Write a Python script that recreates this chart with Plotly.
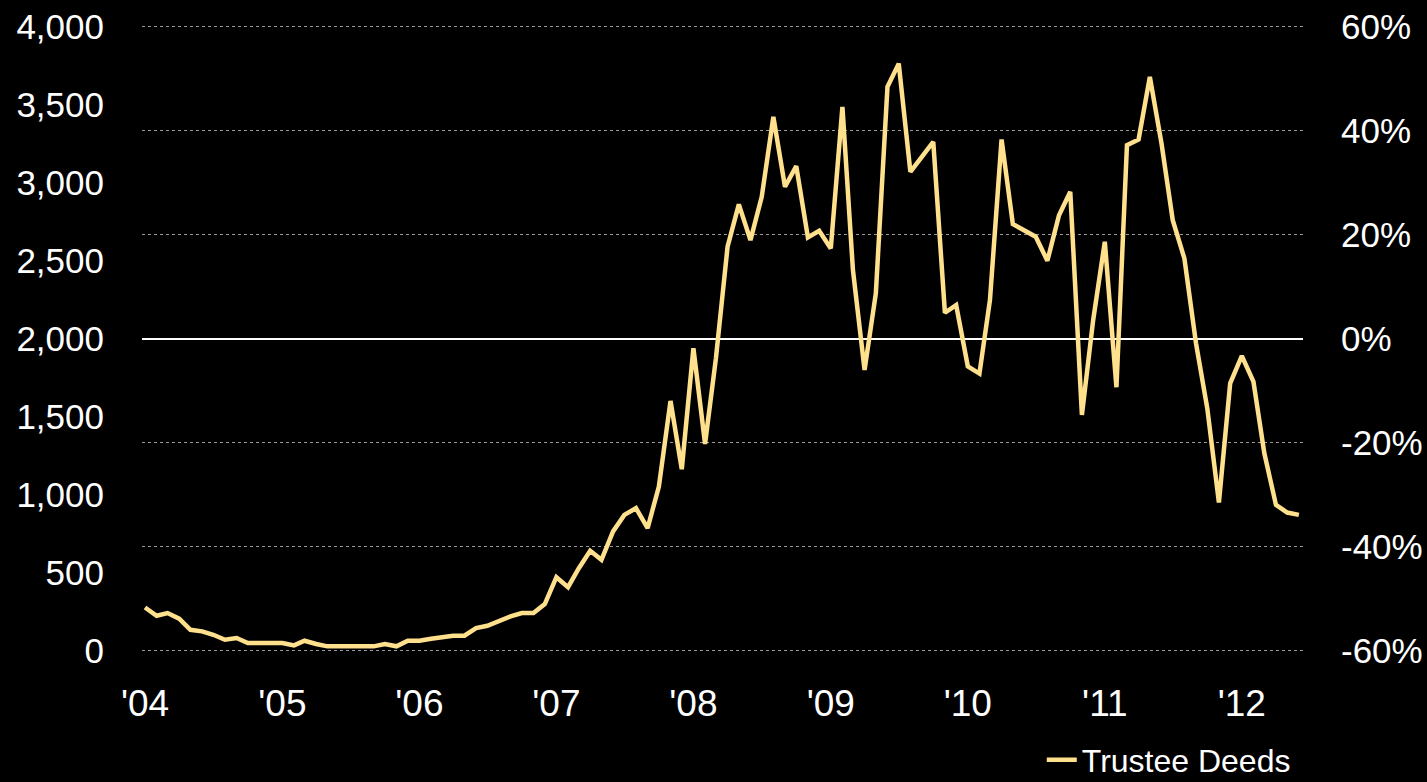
import pandas as pd
import plotly.graph_objects as go

# Monthly trustee deeds, Jan 2004 - Jun 2012
months = pd.date_range("2004-01-01", periods=102, freq="MS")
trustee_deeds = [
    277, 224, 241, 205, 134, 124, 102, 70, 81, 49, 49, 49,          # 2004
    49, 34, 64, 43, 28, 28, 28, 28, 28, 43, 28, 64,                 # 2005
    64, 77, 87, 96, 96, 145, 160, 192, 220, 241, 241, 299,          # 2006
    471, 407, 525, 640, 582, 764, 870, 913, 785, 1052, 1600, 1163,  # 2007
    1937, 1325, 1873, 2588, 2859, 2630, 2907, 3420, 2972, 3104, 2648, 2690,  # 2008
    2577, 3484, 2438, 1798, 2289, 3612, 3761, 3068, 3160, 3260, 2165, 2214,  # 2009
    1822, 1775, 2246, 3275, 2733, 2690, 2652, 2498, 2790, 2940, 1510, 2118,  # 2010
    2620, 1688, 3238, 3275, 3676, 3250, 2758, 2513, 1969, 1553, 949, 1713,   # 2011
    1888, 1724, 1265, 934, 885, 870,                                  # 2012
]

year_ticks = pd.date_range("2004-01-01", periods=9, freq="YS")
year_labels = ["'04", "'05", "'06", "'07", "'08", "'09", "'10", "'11", "'12"]

left_ticks = [0, 500, 1000, 1500, 2000, 2500, 3000, 3500, 4000]
left_labels = ["0", "500", "1,000", "1,500", "2,000", "2,500", "3,000", "3,500", "4,000"]
right_ticks = [-0.6, -0.4, -0.2, 0.0, 0.2, 0.4, 0.6]
right_labels = ["-60%", "-40%", "-20%", "0%", "20%", "40%", "60%"]

FONT = "Liberation Sans, Arial, sans-serif"

fig = go.Figure()
fig.add_trace(go.Scatter(
    x=months, y=[None] * len(months), yaxis="y2",
    showlegend=False, hoverinfo="skip", mode="lines",
))
fig.add_trace(go.Scatter(
    x=months, y=trustee_deeds, mode="lines", name="Trustee Deeds",
    line=dict(color="#FFE08C", width=4.5),
))

pad = 0.0025
fig.update_layout(
    width=1427, height=782,
    paper_bgcolor="black", plot_bgcolor="black",
    margin=dict(l=142, r=124, t=25, b=130, autoexpand=False),
    font=dict(family=FONT, color="white", size=35),
    xaxis=dict(
        type="date",
        range=["2003-12-24", "2012-06-12"],
        tickvals=year_ticks, ticktext=year_labels,
        showgrid=False, zeroline=False, showline=False,
        ticks="", ticklabelstandoff=26, automargin=False,
        tickfont=dict(family=FONT, size=37, color="white"),
    ),
    yaxis=dict(
        range=[-pad * 4000 / 1.2, 4000 + pad * 4000 / 1.2],
        tickvals=left_ticks, ticktext=left_labels,
        showgrid=False, zeroline=False, showline=False,
        ticks="", ticklabelstandoff=37, automargin=False,
        tickfont=dict(family=FONT, size=35, color="white"),
    ),
    yaxis2=dict(
        overlaying="y", side="right", range=[-0.6 - pad, 0.6 + pad],
        tickvals=right_ticks, ticktext=right_labels,
        showgrid=True, gridcolor="#9a9a9a", gridwidth=1, griddash="dot",
        zeroline=True, zerolinecolor="white", zerolinewidth=1.5,
        showline=False, ticks="", ticklabelstandoff=37, automargin=False,
        tickfont=dict(family=FONT, size=35, color="white"),
    ),
    legend=dict(
        x=0.775, xanchor="left", y=-0.172, yanchor="middle",
        bgcolor="rgba(0,0,0,0)",
        font=dict(family=FONT, size=32, color="white"),
    ),
    showlegend=True,
)

fig.write_html(
    "out.html",
    config={"displayModeBar": False},
    post_script="document.body.style.margin='0';document.body.style.overflow='hidden';",
)
